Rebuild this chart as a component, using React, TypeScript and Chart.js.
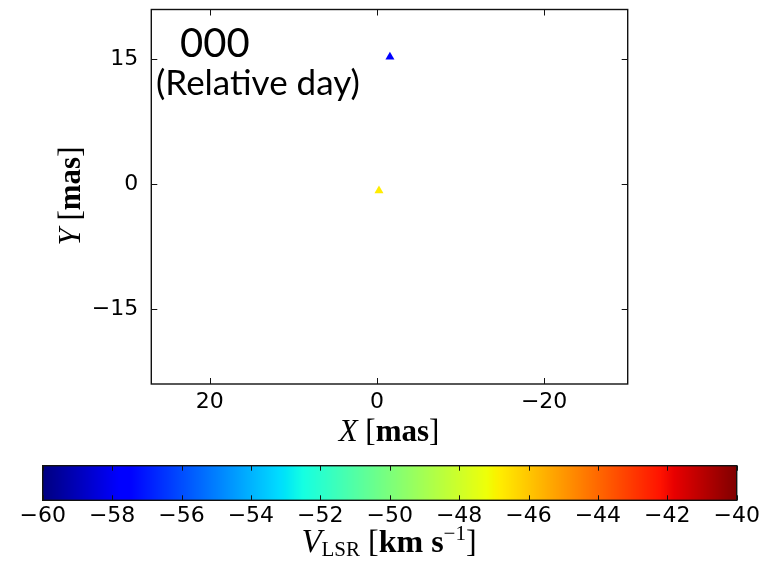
import { useEffect, useRef } from "react";
import { Chart, registerables } from "chart.js";

Chart.register(...registerables);

// ---- data ----
const xValues = [-1.55, -0.24];
const yValues = [15.3, -0.77];
const vlsrValues = [-57.6, -46.8];

const xTicks = [20, 0, -20];
const yTicks = [15, 0, -15];
const cbTicks = [-60, -58, -56, -54, -52, -50, -48, -46, -44, -42, -40];

const xMin = -30;
const xMax = 27;
const yMin = -24;
const yMax = 21;
const vMin = -60;
const vMax = -40;

const dayLabel = "000";
const daySubLabel = "(Relative day)";

// ---- jet colormap ----
const jetR: number[][] = [[0, 0], [0.35, 0], [0.66, 1], [0.89, 1], [1, 0.5]];
const jetG: number[][] = [[0, 0], [0.125, 0], [0.375, 1], [0.64, 1], [0.91, 0], [1, 0]];
const jetB: number[][] = [[0, 0.5], [0.11, 1], [0.34, 1], [0.65, 0], [1, 0]];

function seg(pts: number[][], f: number) {
  if (f <= pts[0][0]) return pts[0][1];
  for (let i = 1; i < pts.length; i++) {
    if (f <= pts[i][0]) {
      const [x0, y0] = pts[i - 1];
      const [x1, y1] = pts[i];
      return y0 + ((f - x0) / (x1 - x0)) * (y1 - y0);
    }
  }
  return pts[pts.length - 1][1];
}

function jet(v: number) {
  const f = Math.min(1, Math.max(0, (v - vMin) / (vMax - vMin)));
  const r = Math.round(seg(jetR, f) * 255);
  const g = Math.round(seg(jetG, f) * 255);
  const b = Math.round(seg(jetB, f) * 255);
  return `rgb(${r},${g},${b})`;
}

const fmt = (v: any) => {
  const n = Number(v);
  return n < 0 ? "\u2212" + Math.abs(n) : String(n);
};

type Run = { t: string; font: string; dy?: number };
function drawRuns(ctx: CanvasRenderingContext2D, runs: Run[], x: number, y: number, align: "left" | "center") {
  ctx.textAlign = "left";
  ctx.textBaseline = "alphabetic";
  let w = 0;
  for (const r of runs) {
    ctx.font = r.font;
    w += ctx.measureText(r.t).width;
  }
  let cx = align === "center" ? x - w / 2 : x;
  for (const r of runs) {
    ctx.font = r.font;
    ctx.fillText(r.t, cx, y + (r.dy || 0));
    cx += ctx.measureText(r.t).width;
  }
}

const SERIF = '"Liberation Serif", "DejaVu Serif", serif';
const axisRuns = (letter: string): Run[] => [
  { t: letter, font: `italic 31px ${SERIF}` },
  { t: " [", font: `31px ${SERIF}` },
  { t: "mas", font: `bold 31px ${SERIF}` },
  { t: "]", font: `31px ${SERIF}` },
];

const mainPlugin = {
  id: "mainDecor",
  afterDraw(chart: any) {
    const ctx: CanvasRenderingContext2D = chart.ctx;
    const { left, right, top, bottom } = chart.chartArea;
    const xs = chart.scales.x;
    const ys = chart.scales.y;
    ctx.save();
    ctx.strokeStyle = "#111";
    ctx.lineWidth = 1.4;
    ctx.strokeRect(left, top, right - left, bottom - top);
    ctx.lineWidth = 1;
    ctx.beginPath();
    const tl = 6;
    for (const t of xs.ticks) {
      const px = Math.round(xs.getPixelForValue(t.value)) + 0.5;
      ctx.moveTo(px, bottom);
      ctx.lineTo(px, bottom - tl);
      ctx.moveTo(px, top);
      ctx.lineTo(px, top + tl);
    }
    for (const t of ys.ticks) {
      const py = Math.round(ys.getPixelForValue(t.value)) + 0.5;
      ctx.moveTo(left, py);
      ctx.lineTo(left + tl, py);
      ctx.moveTo(right, py);
      ctx.lineTo(right - tl, py);
    }
    ctx.stroke();

    ctx.fillStyle = "#000";
    // X label
    drawRuns(ctx, axisRuns("X"), 389, 441, "center");
    // Y label (rotated)
    ctx.save();
    ctx.translate(80, 196);
    ctx.rotate(-Math.PI / 2);
    drawRuns(ctx, axisRuns("Y"), 0, 0, "center");
    ctx.restore();

    // annotation
    ctx.fillStyle = "#000";
    ctx.textAlign = "left";
    ctx.textBaseline = "alphabetic";
    ctx.font = '40px Lato, "Open Sans", sans-serif';
    ctx.fillText(dayLabel, 180, 57);
    ctx.font = '35px Lato, "Open Sans", sans-serif';
    ctx.fillText(daySubLabel, 156, 95);
    ctx.restore();
  },
};

const cbPlugin = {
  id: "cbDecor",
  beforeDatasetsDraw(chart: any) {
    const ctx: CanvasRenderingContext2D = chart.ctx;
    const { top, bottom } = chart.chartArea;
    const xs = chart.scales.x;
    const x0 = xs.getPixelForValue(vMin);
    const x1 = xs.getPixelForValue(vMax);
    ctx.save();
    for (let px = Math.floor(x0); px < Math.ceil(x1); px++) {
      const v = xs.getValueForPixel(px + 0.5);
      ctx.fillStyle = jet(v);
      ctx.fillRect(px, top, 1, bottom - top);
    }
    ctx.restore();
  },
  afterDraw(chart: any) {
    const ctx: CanvasRenderingContext2D = chart.ctx;
    const { left, right, top, bottom } = chart.chartArea;
    const xs = chart.scales.x;
    ctx.save();
    ctx.strokeStyle = "#111";
    ctx.lineWidth = 1;
    ctx.beginPath();
    const tl = 5;
    for (const t of xs.ticks) {
      const px = Math.round(xs.getPixelForValue(t.value)) + 0.5;
      ctx.moveTo(px, bottom);
      ctx.lineTo(px, bottom - tl);
      ctx.moveTo(px, top);
      ctx.lineTo(px, top + tl);
    }
    ctx.stroke();
    ctx.lineWidth = 1.4;
    ctx.strokeRect(left, top, right - left, bottom - top);

    ctx.fillStyle = "#000";
    drawRuns(
      ctx,
      [
        { t: "V", font: `italic 33px ${SERIF}` },
        { t: "LSR", font: `21px ${SERIF}`, dy: 4 },
        { t: " [", font: `32px ${SERIF}` },
        { t: "km s", font: `bold 32px ${SERIF}` },
        { t: "\u22121", font: `21px ${SERIF}`, dy: -12 },
        { t: "]", font: `32px ${SERIF}` },
      ],
      389,
      552,
      "center"
    );
    ctx.restore();
  },
};

const tickFont = { family: '"DejaVu Sans", sans-serif', size: 22 };

export default function App() {
  const mainRef = useRef<HTMLCanvasElement | null>(null);
  const cbRef = useRef<HTMLCanvasElement | null>(null);

  useEffect(() => {
    if (!mainRef.current || !cbRef.current) return;
    const main = new Chart(mainRef.current, {
      type: "scatter",
      data: {
        datasets: [
          {
            data: xValues.map((x, i) => ({ x, y: yValues[i] })),
            pointStyle: "triangle",
            pointRadius: 5.2,
            pointHoverRadius: 5.2,
            pointBackgroundColor: vlsrValues.map((v) => jet(v)),
            pointBorderWidth: 0,
            pointBorderColor: "rgba(0,0,0,0)",
          } as any,
        ],
      },
      options: {
        responsive: false,
        animation: false,
        events: [],
        layout: { padding: { left: 0, top: 9.5, right: 138.3, bottom: 0 } },
        plugins: { legend: { display: false }, tooltip: { enabled: false } },
        scales: {
          x: {
            type: "linear",
            position: "bottom",
            reverse: true,
            min: xMin,
            max: xMax,
            grid: { display: false },
            border: { display: false },
            ticks: { font: tickFont, color: "#000", padding: -3, autoSkip: false, maxRotation: 0, callback: fmt },
            afterBuildTicks: (s: any) => {
              s.ticks = xTicks.map((v) => ({ value: v }));
            },
            afterFit: (s: any) => {
              s.height = 185;
              s.paddingLeft = 0;
              s.paddingRight = 0;
            },
          },
          y: {
            type: "linear",
            position: "left",
            min: yMin,
            max: yMax,
            grid: { display: false },
            border: { display: false },
            ticks: { font: tickFont, color: "#000", padding: 5, autoSkip: false, callback: fmt },
            afterBuildTicks: (s: any) => {
              s.ticks = yTicks.map((v) => ({ value: v }));
            },
            afterFit: (s: any) => {
              s.width = 151.3;
              s.paddingTop = 0;
              s.paddingBottom = 0;
            },
          },
        },
      } as any,
      plugins: [mainPlugin],
    });

    const cb = new Chart(cbRef.current, {
      type: "scatter",
      data: { datasets: [] },
      options: {
        responsive: false,
        animation: false,
        events: [],
        layout: { padding: { left: 42.7, top: 465.7, right: 29.3, bottom: 0 } },
        plugins: { legend: { display: false }, tooltip: { enabled: false } },
        scales: {
          x: {
            type: "linear",
            position: "bottom",
            min: vMin,
            max: vMax,
            grid: { display: false },
            border: { display: false },
            ticks: { font: tickFont, color: "#000", padding: -5, autoSkip: false, maxRotation: 0, callback: fmt },
            afterBuildTicks: (s: any) => {
              s.ticks = cbTicks.map((v) => ({ value: v }));
            },
            afterFit: (s: any) => {
              s.height = 68.7;
              s.paddingLeft = 0;
              s.paddingRight = 0;
            },
          },
          y: { display: false, min: 0, max: 1 },
        },
      } as any,
      plugins: [cbPlugin],
    });

    return () => {
      main.destroy();
      cb.destroy();
    };
  }, []);

  return (
    <div style={{ position: "fixed", left: 0, top: 0, width: 766, height: 569, background: "#fff" }}>
      <canvas ref={mainRef} width={766} height={569} style={{ position: "absolute", left: 0, top: 0 }} />
      <canvas ref={cbRef} width={766} height={569} style={{ position: "absolute", left: 0, top: 0 }} />
    </div>
  );
}
